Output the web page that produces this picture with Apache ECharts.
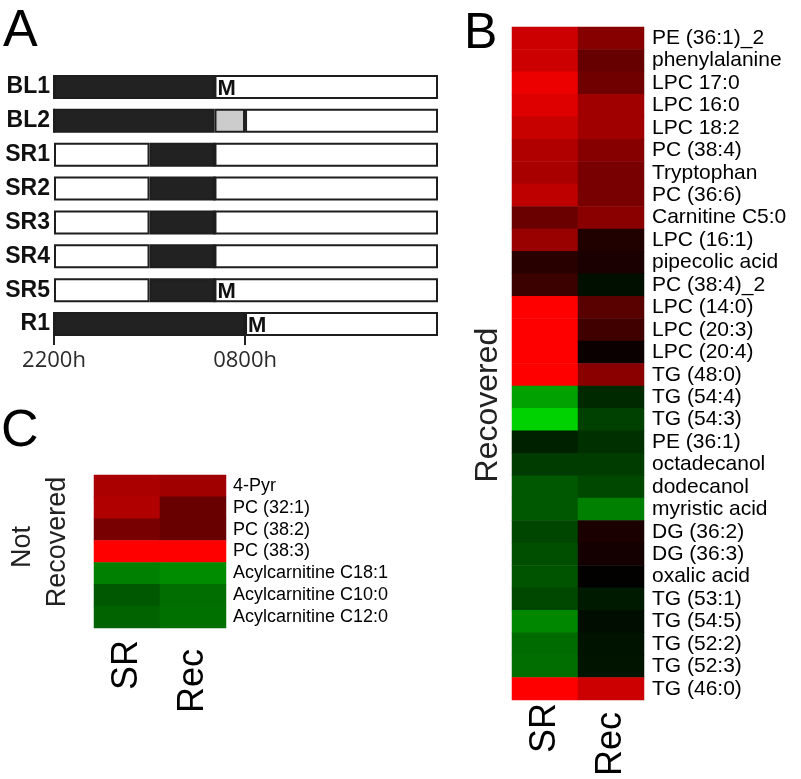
<!DOCTYPE html>
<html>
<head>
<meta charset="utf-8">
<script src="https://cdn.jsdelivr.net/npm/echarts@6/dist/echarts.min.js"></script>
<style>
html,body{margin:0;padding:0;background:#fff;}
#chart{width:801px;height:779px;}
</style>
</head>
<body>
<div id="chart"></div>
<script>
// ---------- Panel A: sleep schedule (hours after 2200h) ----------
const scheduleRows = ['BL1','BL2','SR1','SR2','SR3','SR4','SR5','R1'];
const awakeBefore  = [0, 0, 5.0, 5.0, 5.0, 5.0, 5.0, 0];
const sleepHours   = [8.4, 8.4, 3.4, 3.4, 3.4, 3.4, 3.4, 10.0];
const recoveryHrs  = [0, 1.6, 0, 0, 0, 0, 0, 0];
const awakeAfter   = [11.7, 10.1, 11.7, 11.7, 11.7, 11.7, 11.7, 10.1];
const mealRows     = ['BL1','SR5','R1'];
const timeTicks    = [0, 10];
const timeLabels   = ['2200h','0800h'];

// ---------- Panel B: recovered metabolites ----------
const recoveredNames = ['PE (36:1)_2','phenylalanine','LPC 17:0','LPC 16:0','LPC 18:2','PC (38:4)','Tryptophan','PC (36:6)','Carnitine C5:0','LPC (16:1)','pipecolic acid','PC (38:4)_2','LPC (14:0)','LPC (20:3)','LPC (20:4)','TG (48:0)','TG (54:4)','TG (54:3)','PE (36:1)','octadecanol','dodecanol','myristic acid','DG (36:2)','DG (36:3)','oxalic acid','TG (53:1)','TG (54:5)','TG (52:2)','TG (52:3)','TG (46:0)'];
const recoveredSR  = [0.80,0.80,0.93,0.87,0.78,0.69,0.66,0.75,0.42,0.60,0.16,0.23,1.00,1.00,1.00,1.00,-0.63,-0.82,-0.13,-0.23,-0.35,-0.35,-0.27,-0.31,-0.33,-0.28,-0.53,-0.42,-0.43,1.00];
const recoveredRec = [0.53,0.40,0.44,0.63,0.63,0.53,0.47,0.47,0.54,0.13,0.10,-0.06,0.35,0.25,0.04,0.54,-0.16,-0.25,-0.19,-0.23,-0.28,-0.50,0.10,0.08,0.01,-0.10,-0.05,-0.07,-0.08,0.80];

// ---------- Panel C: not recovered metabolites ----------
const notRecNames = ['4-Pyr','PC (32:1)','PC (38:2)','PC (38:3)','Acylcarnitine C18:1','Acylcarnitine C10:0','Acylcarnitine C12:0'];
const notRecSR  = [0.67,0.69,0.47,1.00,-0.50,-0.35,-0.39];
const notRecRec = [0.63,0.41,0.41,1.00,-0.55,-0.43,-0.44];

const conditions = ['SR','Rec'];

function cells(srVals, recVals){
  const out = [];
  srVals.forEach((v,i)=>out.push([0,i,v]));
  recVals.forEach((v,i)=>out.push([1,i,v]));
  return out;
}
// second column label sits slightly lower in the original figure
const condAxisData = conditions.map((c,i)=> i === 1 ? {value:c, textStyle:{padding:[0,9,0,0]}} : c);

const FONT = '"Liberation Sans", Arial, Helvetica, sans-serif';
const chart = echarts.init(document.getElementById('chart'), null, {renderer:'canvas'});

const mealLabel = {
  show: true, position: 'insideLeft', distance: 3,
  formatter: p => mealRows.includes(p.name) ? 'M' : '',
  fontFamily: FONT, fontWeight: 'bold', fontSize: 22, color: '#111', offset:[0,2]
};
const barBase = {type:'bar', xAxisIndex:0, yAxisIndex:0, stack:'day', barWidth:24};

const option = {
  backgroundColor:'#fff',
  animation:false,
  graphic:[
    {type:'text', left:3, top:6, style:{text:'A', font:'52px '+FONT, fill:'#000'}},
    {type:'text', left:464, top:9, style:{text:'B', font:'50px '+FONT, fill:'#000'}},
    {type:'text', left:1, top:406, style:{text:'C', font:'52px '+FONT, fill:'#000'}},
    {type:'text', x:488, y:405, rotation:Math.PI/2, style:{text:'Recovered', font:'32px '+FONT, fill:'#222', align:'center', verticalAlign:'middle'}},
    {type:'text', x:23, y:547, rotation:Math.PI/2, style:{text:'Not', font:'27px '+FONT, fill:'#222', align:'center', verticalAlign:'middle'}},
    {type:'text', x:58, y:542, rotation:Math.PI/2, style:{text:'Recovered', font:'27px '+FONT, fill:'#222', align:'center', verticalAlign:'middle'}}
  ],
  visualMap:{
    show:false, type:'continuous', min:-1, max:1, seriesIndex:[4,5], dimension:2,
    inRange:{color:['#00ff00','#000000','#ff0000']}
  },
  grid:[
    {left:54, top:70, width:384, height:271},
    {left:512, top:27, width:132, height:674},
    {left:94, top:475, width:132, height:153}
  ],
  xAxis:[
    {gridIndex:0, type:'value', min:0, max:20.1, offset:-5,
      axisLine:{show:false}, splitLine:{show:false},
      axisTick:{show:true, customValues:timeTicks, length:9, lineStyle:{color:'#222', width:2}},
      axisLabel:{show:true, customValues:timeTicks, margin:14,
        formatter:v=>timeLabels[timeTicks.indexOf(v)],
        fontFamily:'"Open Sans", "DejaVu Sans", sans-serif', fontSize:22, color:'#2a2a2a'}},
    {gridIndex:1, type:'category', data:condAxisData, axisLine:{show:false}, axisTick:{show:false},
      axisLabel:{rotate:90, margin:3, fontFamily:FONT, fontSize:36, color:'#000'}},
    {gridIndex:2, type:'category', data:condAxisData, axisLine:{show:false}, axisTick:{show:false},
      axisLabel:{rotate:90, margin:12, fontFamily:FONT, fontSize:36, color:'#000'}}
  ],
  yAxis:[
    {gridIndex:0, type:'category', data:scheduleRows, inverse:true,
      axisLine:{show:false}, axisTick:{show:false},
      axisLabel:{margin:4, fontFamily:FONT, fontWeight:'bold', fontSize:23, color:'#111'}},
    {gridIndex:1, type:'category', data:recoveredNames, inverse:true, position:'right',
      axisLine:{show:false}, axisTick:{show:false},
      axisLabel:{margin:8, fontFamily:FONT, fontSize:21, color:'#000', interval:0}},
    {gridIndex:2, type:'category', data:notRecNames, inverse:true, position:'right',
      axisLine:{show:false}, axisTick:{show:false},
      axisLabel:{margin:7, fontFamily:FONT, fontSize:18, color:'#000', interval:0}}
  ],
  series:[
    Object.assign({}, barBase, {name:'before', data:awakeBefore, itemStyle:{color:'#fff', borderColor:'#1e1e1e', borderWidth:2}}),
    Object.assign({}, barBase, {name:'sleep', data:sleepHours, itemStyle:{color:'#222', borderColor:'#1e1e1e', borderWidth:2}}),
    Object.assign({}, barBase, {name:'recovery', data:recoveryHrs, itemStyle:{color:'#cccccc', borderColor:'#1e1e1e', borderWidth:2}}),
    Object.assign({}, barBase, {name:'after', data:awakeAfter, itemStyle:{color:'#fff', borderColor:'#1e1e1e', borderWidth:2}, label:mealLabel}),
    {type:'heatmap', xAxisIndex:1, yAxisIndex:1, data:cells(recoveredSR, recoveredRec)},
    {type:'heatmap', xAxisIndex:2, yAxisIndex:2, data:cells(notRecSR, notRecRec)}
  ]
};
chart.setOption(option);
</script>
</body>
</html>
